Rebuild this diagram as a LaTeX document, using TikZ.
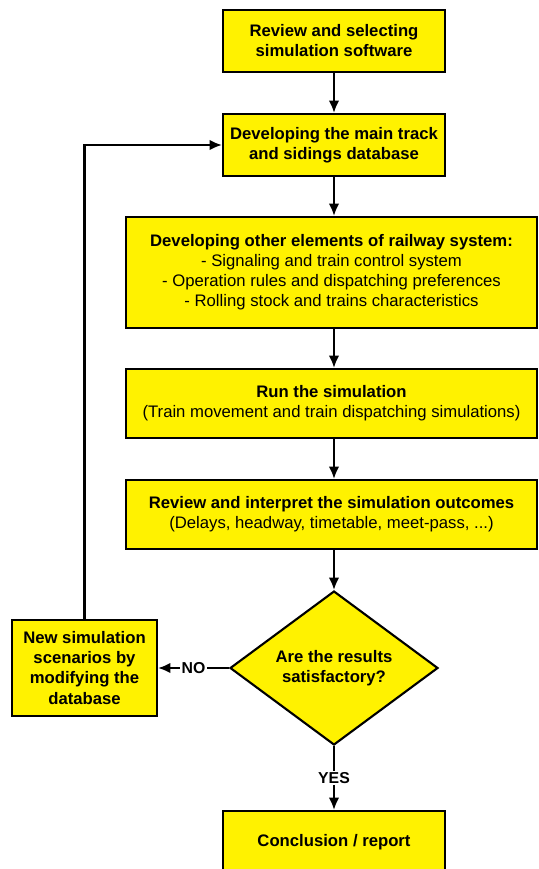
\documentclass[tikz,border=0pt]{standalone}
\usepackage{fontspec}
\setmainfont{Liberation Sans}
\usetikzlibrary{shapes.geometric, arrows.meta}

\begin{document}
\begin{tikzpicture}[x=0.02cm, y=-0.02cm]
% Define styles
\tikzset{
  stepbox/.style={draw=black, fill=yellow, line width=1.2pt, align=center,
    inner sep=2pt, font=\fontsize{9.5}{11.4}\selectfont},
  decision/.style={diamond, draw=black, fill=yellow, line width=1.2pt,
    align=center, inner sep=0pt, minimum width=4.16cm, minimum height=3.08cm,
    font=\fontsize{9.5}{11.4}\selectfont\bfseries},
  flow/.style={line width=1.2pt, -{Latex[length=7pt,width=6pt]}},
  answer/.style={fill=white, inner sep=1pt, font=\fontsize{9}{10}\selectfont\bfseries}
}

\useasboundingbox (0,0) rectangle (538,869);

% Main column
\node[stepbox, minimum width=4.44cm, minimum height=1.24cm] (select) at (334,41)
  {\textbf{Review and selecting}\\\textbf{simulation software}};
\node[stepbox, minimum width=4.44cm, minimum height=1.24cm] (track) at (334,145)
  {\textbf{Developing the main track}\\\textbf{and sidings database}};
\node[stepbox, minimum width=8.22cm, minimum height=2.22cm] (elements) at (331.5,272.5)
  {\textbf{Developing other elements of railway system:}\\
   - Signaling and train control system\\
   - Operation rules and dispatching preferences\\
   - Rolling stock and trains characteristics};
\node[stepbox, minimum width=8.22cm, minimum height=1.38cm] (run) at (331.5,403.5)
  {\textbf{Run the simulation}\\(Train movement and train dispatching simulations)};
\node[stepbox, minimum width=8.22cm, minimum height=1.38cm] (review) at (331.5,514.5)
  {\textbf{Review and interpret the simulation outcomes}\\(Delays, headway, timetable, meet-pass, ...)};

% Decision and its two branches
\node[decision] (check) at (334,668) {Are the results\\satisfactory?};
\node[stepbox, minimum width=2.9cm, minimum height=1.92cm] (scenario) at (84.5,668)
  {\textbf{New simulation}\\\textbf{scenarios by}\\\textbf{modifying the}\\\textbf{database}};
\node[stepbox, minimum width=4.44cm, minimum height=1.24cm] (report) at (334,842)
  {\textbf{Conclusion / report}};

% Connectors
\draw[flow] (select) -- (track);
\draw[flow] (track) -- (track.south |- elements.north);
\draw[flow] (track.south |- elements.south) -- (track.south |- run.north);
\draw[flow] (track.south |- run.south) -- (track.south |- review.north);
\draw[flow] (track.south |- review.south) -- (check);
\draw[flow] (check) -- node[answer] {NO} (scenario);
\draw[flow] (check) -- node[answer] {YES} (report);
\draw[flow] (scenario) |- (track);

\end{tikzpicture}
\end{document}
